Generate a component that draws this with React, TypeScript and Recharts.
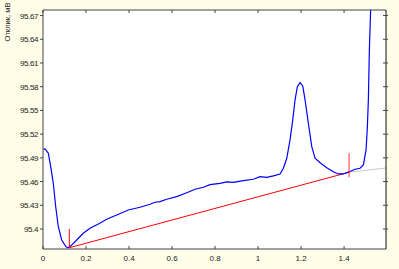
import { LineChart, Line, XAxis, YAxis, CartesianGrid } from 'recharts'

// measured response curve (x, mV)
const curveX = [
  0.001, 0.0093, 0.0247, 0.0358, 0.0479, 0.0591, 0.0712, 0.087, 0.107, 0.1177,
  0.1335, 0.1567, 0.1874, 0.2186, 0.2572, 0.2963, 0.3428, 0.3967, 0.4512, 0.4977,
  0.5209, 0.5442, 0.5753, 0.6219, 0.6684, 0.707, 0.7456, 0.7767, 0.8233, 0.8544,
  0.8851, 0.9316, 0.9781, 1.0093, 1.0405, 1.0712, 1.1023, 1.1177, 1.1335, 1.1488,
  1.1614, 1.1721, 1.1828, 1.1953, 1.2079, 1.2186, 1.234, 1.2498, 1.2651, 1.2884,
  1.3195, 1.3502, 1.3735, 1.3967, 1.4247, 1.4512, 1.4744, 1.4898, 1.5023, 1.5084,
  1.513, 1.5177, 1.5245,
]
const curveY = [
  95.5009, 95.5013, 95.4958, 95.4789, 95.4578, 95.4282, 95.4029, 95.3861, 95.3776, 95.3763,
  95.3797, 95.3861, 95.3946, 95.4009, 95.4063, 95.4123, 95.4177, 95.424, 95.4275, 95.4313,
  95.4338, 95.4346, 95.4376, 95.4409, 95.4459, 95.4503, 95.4528, 95.4561, 95.4578, 95.4595,
  95.4591, 95.4611, 95.4629, 95.4662, 95.4654, 95.4671, 95.4696, 95.4768, 95.4895, 95.5127,
  95.538, 95.5633, 95.5801, 95.5852, 95.581, 95.5633, 95.5338, 95.5042, 95.4895, 95.4839,
  95.4776, 95.4725, 95.4696, 95.4696, 95.4725, 95.4756, 95.4768, 95.481, 95.5, 95.5295,
  95.5633, 95.6266, 95.685,
]

// baseline between the two picked points, and its grey extension
const baseX = [0.1223, 1.4233]
const baseY = [95.3763, 95.4718]
const extX = [1.4233, 1.595]
const extY = [95.4718, 95.4772]

// vertical markers at the picked points
const mark1X = [0.1223, 0.1223]
const mark1Y = [95.3763, 95.4]
const mark2X = [1.4233, 1.4233]
const mark2Y = [95.4654, 95.4958]

const xTicks = [0, 0.2, 0.4, 0.6, 0.8, 1, 1.2, 1.4]
const yTicks = [95.4, 95.43, 95.46, 95.49, 95.52, 95.55, 95.58, 95.61, 95.64, 95.67]
const xDomain: [number, number] = [0, 1.595]
const yDomain: [number, number] = [95.3747, 95.677]

const toRows = (xs: number[], ys: number[]) => xs.map((x, i) => ({ x, y: ys[i] }))

const FONT = '"Liberation Sans", Arial, sans-serif'
const AXIS = '#444'
const fmt = (v: number) => String(Math.round(v * 100) / 100)

function BottomTick({ x, y, payload }: any) {
  return (
    <g>
      <line x1={x} y1={y} x2={x} y2={y - 3} stroke={AXIS} />
      <text x={x} y={y + 12} textAnchor="middle" fontSize={8} fontFamily={FONT} fill="#222">
        {fmt(payload.value)}
      </text>
    </g>
  )
}

function TopTick({ x, y }: any) {
  return <line x1={x} y1={y} x2={x} y2={y + 3} stroke={AXIS} />
}

function LeftTick({ x, y, payload }: any) {
  return (
    <g>
      <line x1={x - 3} y1={y} x2={x} y2={y} stroke={AXIS} />
      <text x={x - 5} y={y + 3} textAnchor="end" fontSize={8} fontFamily={FONT} fill="#222" letterSpacing={-0.4}>
        {fmt(payload.value)}
      </text>
    </g>
  )
}

function RightTick({ x, y }: any) {
  return <line x1={x - 3} y1={y} x2={x + 2} y2={y} stroke={AXIS} />
}

function YTitle({ viewBox }: any) {
  const cx = viewBox.x + 7
  const cy = viewBox.y + 12
  return (
    <text x={cx} y={cy} transform={`rotate(-90 ${cx} ${cy})`} textAnchor="middle" dominantBaseline="central"
      fontSize={7.5} fontFamily={FONT} fill="#222">
      Отклик, мВ
    </text>
  )
}

export default function App() {
  return (
    <div style={{ width: 399, height: 269, background: '#fffde8' }}>
      <style>{'body{margin:0;background:#fffde8}'}</style>
      <LineChart width={399} height={269} margin={{ top: 0, right: 0, bottom: 0, left: 0 }}>
        <CartesianGrid xAxisId="b" yAxisId="l" horizontal={false} vertical={false} fill="#ffffff" />
        <XAxis xAxisId="b" type="number" dataKey="x" domain={xDomain} ticks={xTicks} height={20}
          allowDataOverflow tickSize={0} tickMargin={0} tick={<BottomTick />} tickLine={false}
          axisLine={{ stroke: AXIS }} />
        <XAxis xAxisId="t" orientation="top" type="number" dataKey="x" domain={xDomain} ticks={xTicks} height={10}
          allowDataOverflow tickSize={0} tickMargin={0} tick={<TopTick />} tickLine={false}
          axisLine={{ stroke: AXIS }} />
        <YAxis yAxisId="l" type="number" dataKey="y" domain={yDomain} ticks={yTicks} width={43}
          allowDataOverflow tickSize={0} tickMargin={0} tick={<LeftTick />} tickLine={false}
          axisLine={{ stroke: AXIS }} label={<YTitle />} />
        <YAxis yAxisId="r" orientation="right" type="number" dataKey="y" domain={yDomain} ticks={yTicks} width={13}
          allowDataOverflow tickSize={0} tickMargin={0} tick={<RightTick />} tickLine={false}
          axisLine={{ stroke: '#111' }} />
        <Line xAxisId="b" yAxisId="l" data={toRows(extX, extY)} dataKey="y" stroke="#c8c8c8" strokeWidth={1}
          dot={false} isAnimationActive={false} />
        <Line xAxisId="b" yAxisId="l" data={toRows(baseX, baseY)} dataKey="y" stroke="#ff0000" strokeWidth={1}
          dot={false} isAnimationActive={false} />
        <Line xAxisId="b" yAxisId="l" data={toRows(curveX, curveY)} dataKey="y" stroke="#0000ff" strokeWidth={1.2}
          dot={false} isAnimationActive={false} />
        <Line xAxisId="b" yAxisId="l" data={toRows(mark1X, mark1Y)} dataKey="y" stroke="#ff0000" strokeWidth={1}
          dot={false} isAnimationActive={false} />
        <Line xAxisId="b" yAxisId="l" data={toRows(mark2X, mark2Y)} dataKey="y" stroke="#ff3030" strokeWidth={1}
          dot={false} isAnimationActive={false} />
      </LineChart>
    </div>
  )
}
